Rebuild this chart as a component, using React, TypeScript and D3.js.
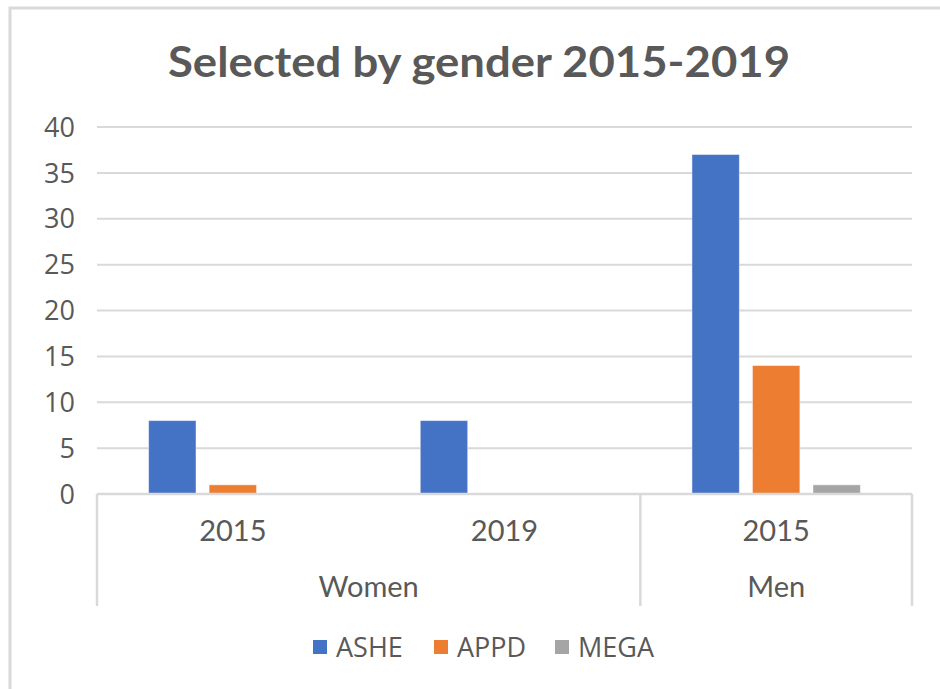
import React from 'react'
import * as d3 from 'd3'

// chart data
const groups = ['Women', 'Women', 'Men']
const years = ['2015', '2019', '2015']
const series = ['ASHE', 'APPD', 'MEGA']
const colors = ['#4472C4', '#ED7D31', '#A5A5A5']
const ashe = [8, 8, 37]
const appd = [1, 0, 14]
const mega = [0, 0, 1]
const yTicks = [0, 5, 10, 15, 20, 25, 30, 35, 40]

const W = 940
const H = 689
const margin = { top: 127, right: 28, bottom: 195, left: 97 }
const textColor = '#595959'
const gridColor = '#d9d9d9'
const sans = '"Open Sans", sans-serif'
const narrow = 'Lato, sans-serif'

export default function App() {
  const values = [ashe, appd, mega]
  const cats = years.map((y, i) => `${groups[i]}-${y}-${i}`)

  const x0 = d3.scaleBand<string>()
    .domain(cats)
    .range([margin.left, W - margin.right])
    .padding(0)

  const outer = x0.bandwidth() * 0.19
  const x1 = d3.scaleBand<string>()
    .domain(series)
    .range([outer, x0.bandwidth() - outer])
    .paddingInner(0.217)

  const y = d3.scaleLinear()
    .domain([0, 40])
    .range([H - margin.bottom, margin.top])

  const y0 = y(0)
  const axisBottom = y0 + 112

  // outer groups (Women spans two categories, Men one)
  const groupNames = Array.from(new Set(groups))
  const groupSpans = groupNames.map(g => {
    const idx = groups.map((d, i) => (d === g ? i : -1)).filter(i => i >= 0)
    const start = x0(cats[idx[0]])!
    const end = x0(cats[idx[idx.length - 1]])! + x0.bandwidth()
    return { name: g, start, end }
  })

  const legendX = d3.scaleBand<string>()
    .domain(series)
    .range([313, 676])

  return (
    <div style={{ position: 'fixed', left: 0, top: 0 }}>
      <svg width={W} height={H} style={{ display: 'block', background: '#fff' }}>
        {/* chart frame */}
        <rect x={10} y={8} width={W + 20} height={H + 20} fill="#fff" stroke={gridColor} strokeWidth={3} />

        <text
          x={479}
          y={77}
          textAnchor="middle"
          textLength={622}
          lengthAdjust="spacingAndGlyphs"
          fill={textColor}
          style={{ fontFamily: narrow, fontWeight: 700, fontSize: 42 }}
        >
          Selected by gender 2015-2019
        </text>

        {/* gridlines + y labels */}
        {yTicks.map(t => (
          <g key={t}>
            {t !== 0 && (
              <line x1={margin.left} x2={W - margin.right} y1={y(t)} y2={y(t)} stroke={gridColor} strokeWidth={2} />
            )}
            <text
              x={75}
              y={y(t)}
              dy="0.36em"
              textAnchor="end"
              fill={textColor}
              style={{ fontFamily: sans, fontSize: 27 }}
            >
              {t}
            </text>
          </g>
        ))}

        {/* bars */}
        {cats.map((c, i) => (
          <g key={c} transform={`translate(${x0(c)},0)`}>
            {series.map((s, j) => {
              const v = values[j][i]
              if (!v) return null
              return (
                <rect
                  key={s}
                  x={x1(s)}
                  y={y(v)}
                  width={x1.bandwidth()}
                  height={y0 - y(v)}
                  fill={colors[j]}
                  stroke="#ffffff"
                  strokeOpacity={0.45}
                  strokeWidth={1}
                />
              )
            })}
          </g>
        ))}

        {/* category axis */}
        <line x1={margin.left} x2={W - margin.right} y1={y0} y2={y0} stroke={gridColor} strokeWidth={2.5} />
        {[...groupSpans.map(g => g.start), W - margin.right].map((xv, i) => (
          <line key={i} x1={xv} x2={xv} y1={y0} y2={axisBottom} stroke={gridColor} strokeWidth={2.5} />
        ))}
        {cats.map((c, i) => (
          <text
            key={c}
            x={x0(c)! + x0.bandwidth() / 2}
            y={y0 + 47}
            textAnchor="middle"
            fill={textColor}
            style={{ fontFamily: narrow, fontSize: 29 }}
          >
            {years[i]}
          </text>
        ))}
        {groupSpans.map(g => (
          <text
            key={g.name}
            x={(g.start + g.end) / 2}
            y={y0 + 103}
            textAnchor="middle"
            fill={textColor}
            style={{ fontFamily: narrow, fontSize: 29 }}
          >
            {g.name}
          </text>
        ))}

        {/* legend */}
        {series.map((s, j) => (
          <g key={s} transform={`translate(${legendX(s)},647)`}>
            <rect x={0} y={-7} width={14} height={14} fill={colors[j]} />
            <text x={23} y={0} dy="0.36em" fill={textColor} style={{ fontFamily: sans, fontSize: 27 }}>
              {s}
            </text>
          </g>
        ))}
      </svg>
    </div>
  )
}
